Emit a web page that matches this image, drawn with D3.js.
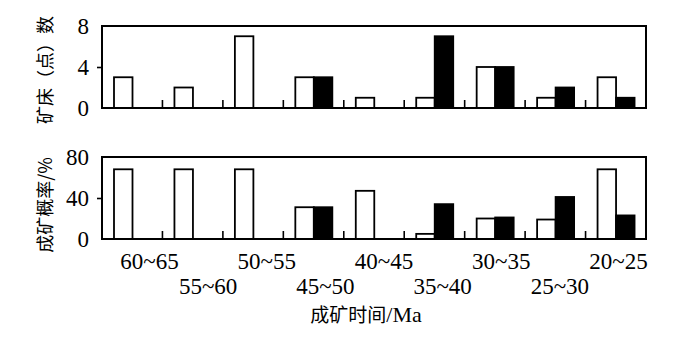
<!DOCTYPE html>
<html>
<head>
<meta charset="utf-8">
<script src="https://cdn.jsdelivr.net/npm/d3@7"></script>
<style>
  body { margin: 0; background: #fff; }
</style>
</head>
<body>
<svg width="700" height="338" font-family="Liberation Serif"></svg>
<script>
// periods (Ma), oldest first
const categories = ['60~65','55~60','50~55','45~50','40~45','35~40','30~35','25~30','20~25'];
// 矿床(点)数
const countWhite = [3, 2, 7, 3, 1, 1, 4, 1, 3];
const countBlack = [0, 0, 0, 3, 0, 7, 4, 2, 1];
// 成矿概率/%
const probWhite = [68, 68, 68, 31, 47, 5, 20, 19, 68];
const probBlack = [0, 0, 0, 31, 0, 34, 21, 41, 23];
const countTicks = [0, 4, 8];
const probTicks = [0, 40, 80];

const svg = d3.select('svg');
const serif = 'Liberation Serif';
const cjk = 'Noto Sans CJK SC';

const left = 102, right = 646;
const xScale = d3.scaleBand().domain(categories).range([left, right]).padding(0);
const xInner = d3.scaleBand().domain(['w', 'b']).range([12, 49]).padding(0);

const panel = (top, bottom, whites, blacks, ticks, title, titleY) => {
  const yScale = d3.scaleLinear().domain([0, d3.max(ticks)]).range([bottom, top]);
  const g = svg.append('g');

  const rows = categories.map((c, i) => ({cat: c, w: whites[i], b: blacks[i]}));

  // white bars
  g.selectAll('rect.w').data(rows.filter(d => d.w > 0))
    .enter().append('rect')
      .attr('class', 'w')
      .attr('x', d => xScale(d.cat) + xInner('w'))
      .attr('y', d => yScale(d.w))
      .attr('width', xInner.bandwidth())
      .attr('height', d => bottom - yScale(d.w))
      .attr('fill', '#fff')
      .attr('stroke', '#000')
      .attr('stroke-width', 1.8);

  // black bars
  g.selectAll('rect.b').data(rows.filter(d => d.b > 0))
    .enter().append('rect')
      .attr('class', 'b')
      .attr('x', d => xScale(d.cat) + xInner('b'))
      .attr('y', d => yScale(d.b))
      .attr('width', xInner.bandwidth())
      .attr('height', d => bottom - yScale(d.b))
      .attr('fill', '#000')
      .attr('stroke', '#000')
      .attr('stroke-width', 1.8);

  // small ticks between periods
  g.selectAll('line.sep').data(categories.slice(1))
    .enter().append('line')
      .attr('x1', d => xScale(d)).attr('x2', d => xScale(d))
      .attr('y1', bottom).attr('y2', bottom - 8)
      .attr('stroke', '#000').attr('stroke-width', 1.6);

  // frame
  g.append('rect')
    .attr('x', left).attr('y', top)
    .attr('width', right - left).attr('height', bottom - top)
    .attr('fill', 'none').attr('stroke', '#000').attr('stroke-width', 2);

  const yaxis = g.append('g')
    .attr('transform', `translate(${left},0)`)
    .call(d3.axisLeft(yScale).tickValues(ticks).tickSize(5).tickPadding(8))
    .attr('font-family', serif).attr('font-size', 23);
  yaxis.select('.domain').remove();
  yaxis.selectAll('.tick line')
    .attr('stroke-width', 1.6)
    .attr('display', d => (d === ticks[1] ? null : 'none'));
  yaxis.selectAll('.tick text')
    .attr('font-family', serif).attr('fill', '#000');

  svg.append('text')
    .attr('transform', `translate(52,${titleY}) rotate(-90)`)
    .attr('text-anchor', 'middle')
    .attr('font-family', cjk).attr('font-size', 18)
    .text(title);
};

panel(26, 108, countWhite, countBlack, countTicks, '矿床（点）数', 70);
panel(157, 239, probWhite, probBlack, probTicks, '成矿概率/%', 205);

// staggered period labels
const labelScale = d3.scalePoint().domain(categories).range([149, 618]);
const xaxis = svg.append('g')
  .attr('transform', 'translate(0,251)')
  .call(d3.axisBottom(labelScale).tickSize(0).tickPadding(0))
  .attr('font-family', serif).attr('font-size', 23);
xaxis.select('.domain').remove();
xaxis.selectAll('.tick text')
  .attr('font-family', serif).attr('fill', '#000')
  .attr('dy', (d, i) => (i % 2 ? '1.85em' : '0.8em'));

const xt = svg.append('text')
  .attr('x', 366).attr('y', 322)
  .attr('text-anchor', 'middle')
  .attr('font-size', 19);
xt.append('tspan').attr('font-family', cjk).text('成矿时间');
xt.append('tspan').attr('font-family', serif).attr('font-size', 22).text('/Ma');
</script>
</body>
</html>
